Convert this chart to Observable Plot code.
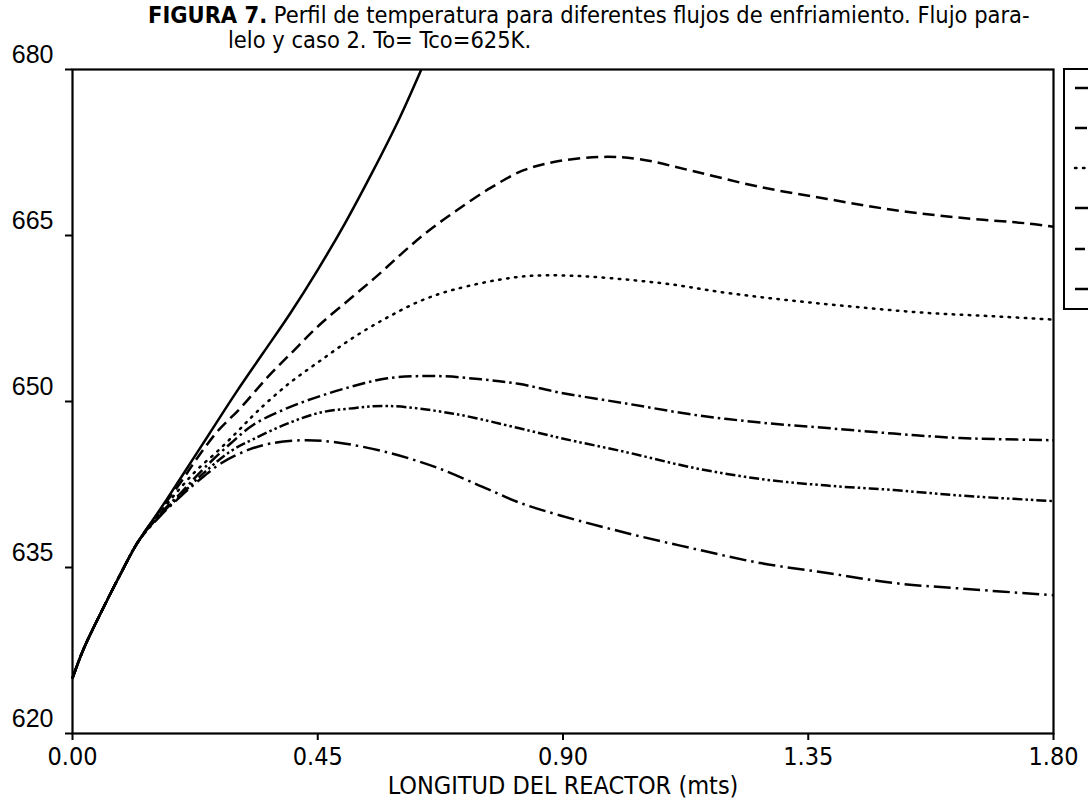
<!DOCTYPE html>
<html>
<head>
<meta charset="utf-8">
<script src="https://cdn.jsdelivr.net/npm/d3@7"></script>
<script src="https://cdn.jsdelivr.net/npm/@observablehq/plot@0.6"></script>
<style>
  html, body { margin: 0; padding: 0; background: #fff; overflow: hidden; }
  #wrap { position: relative; width: 1088px; height: 801px; }
  #title { position: absolute; left: 148px; top: 3px; white-space: nowrap;
           font-family: "DejaVu Sans", sans-serif; font-stretch: condensed;
           font-size: 22px; line-height: 25px; color: #000; }
  #title b { font-weight: bold; }
  #legend { position: absolute; left: 1063px; top: 68px; width: 60px; height: 238px;
            border: 2px solid #000; background: #fff; }
  #plot { position: absolute; left: 0; top: 0; }
</style>
</head>
<body>
<div id="wrap">
  <div id="plot"></div>
  <div id="title"><span id="l1"><b>FIGURA 7.</b> Perfil de temperatura para diferentes flujos de enfriamiento. Flujo para-</span><br><span id="l2" style="padding-left:80px">lelo y caso 2. To= Tco=625K.</span></div>
  <div id="legend"></div>
</div>
<script>
// ---- data ----
const xTicks = [0, 0.45, 0.90, 1.35, 1.80];
const yTicks = [620, 635, 650, 665, 680];
const xLabel = "LONGITUD DEL REACTOR (mts)";

// shared initial segment
const x0 = [0, 0.02, 0.057, 0.088, 0.12];
const t0 = [625, 627.6, 631.4, 634.4, 637.3];

const x1 = [0.16, 0.2, 0.25, 0.3, 0.35, 0.4, 0.45, 0.5, 0.55, 0.6, 0.64];
const t1 = [640.2, 643.2, 647.0, 650.8, 654.4, 658.0, 661.9, 666.1, 670.7, 675.6, 680];

const x2 = [0.16, 0.2, 0.229, 0.266, 0.308, 0.358, 0.406, 0.455, 0.51, 0.56, 0.607, 0.65, 0.70, 0.767, 0.828, 0.89, 0.97, 1.04, 1.14, 1.26, 1.385, 1.507, 1.63, 1.75, 1.80];
const t2 = [640.1, 642.8, 644.9, 647.3, 649.4, 652.2, 654.6, 657.0, 659.3, 661.4, 663.5, 665.3, 667.1, 669.3, 670.9, 671.7, 672.1, 671.9, 670.8, 669.4, 668.3, 667.3, 666.6, 666.1, 665.8];

const x3 = [0.16, 0.2, 0.23, 0.266, 0.303, 0.339, 0.394, 0.455, 0.516, 0.578, 0.639, 0.699, 0.809, 0.895, 1.079, 1.202, 1.323, 1.446, 1.569, 1.69, 1.80];
const t3 = [639.9, 642.3, 643.9, 645.5, 647.3, 649.1, 651.5, 653.7, 655.8, 657.6, 659.1, 660.1, 661.2, 661.4, 660.7, 659.8, 659.1, 658.5, 658.0, 657.7, 657.4];

const x4 = [0.16, 0.2, 0.24, 0.29, 0.332, 0.394, 0.455, 0.516, 0.578, 0.67, 0.75, 0.818, 0.895, 1.018, 1.14, 1.262, 1.385, 1.507, 1.629, 1.80];
const t4 = [639.8, 641.8, 643.9, 646.2, 647.9, 649.4, 650.5, 651.4, 652.1, 652.3, 652.0, 651.6, 650.8, 649.8, 648.8, 648.1, 647.6, 647.1, 646.7, 646.5];

const x5 = [0.16, 0.2, 0.24, 0.29, 0.332, 0.394, 0.455, 0.516, 0.578, 0.699, 0.818, 0.895, 1.018, 1.14, 1.262, 1.385, 1.507, 1.629, 1.80];
const t5 = [639.7, 641.6, 643.5, 645.5, 646.6, 648.0, 649.0, 649.4, 649.6, 648.9, 647.6, 646.7, 645.4, 644.0, 643.0, 642.4, 642.0, 641.5, 641.0];

const x6 = [0.16, 0.2, 0.24, 0.272, 0.321, 0.363, 0.424, 0.486, 0.578, 0.67, 0.761, 0.818, 0.895, 1.018, 1.14, 1.262, 1.385, 1.507, 1.629, 1.80];
const t6 = [639.6, 641.5, 643.2, 644.4, 645.6, 646.2, 646.5, 646.3, 645.4, 644.0, 642.1, 640.9, 639.7, 638.1, 636.7, 635.4, 634.5, 633.6, 633.1, 632.5];

// ---- build table ----
const seriesDefs = [
  {id: "s1", xs: x1, ts: t1, dash: null, cap: "butt"},
  {id: "s2", xs: x2, ts: t2, dash: "12,6", cap: "butt"},
  {id: "s3", xs: x3, ts: t3, dash: "1.5,6.5", cap: "round"},
  {id: "s4", xs: x4, ts: t4, dash: "13,4,2.5,4", cap: "butt"},
  {id: "s5", xs: x5, ts: t5, dash: "10,3,2.5,3,2.5,3", cap: "butt"},
  {id: "s6", xs: x6, ts: t6, dash: "17,5,2.5,5", cap: "butt"}
];
function rows(def) {
  const xs = x0.concat(def.xs), ts = t0.concat(def.ts);
  return xs.map((x, i) => ({x, T: ts[i]}));
}

const narrow = "'DejaVu Sans', sans-serif";
const marks = seriesDefs.map(def => Plot.line(rows(def), {
  x: "x", y: "T", curve: "catmull-rom", stroke: "#000", strokeWidth: 2.5,
  strokeDasharray: def.dash || undefined, strokeLinecap: def.cap
}));

const chart = Plot.plot({
  width: 1088, height: 801,
  marginTop: 69, marginBottom: 68, marginLeft: 72, marginRight: 35,
  style: {background: "#fff", color: "#000"},
  x: {domain: [0, 1.8]},
  y: {domain: [620, 680]},
  marks: [
    ...marks,
    Plot.frame({stroke: "#000", strokeWidth: 2.2}),
    // tick marks only
    Plot.axisY({ticks: yTicks, tickSize: 7, tickFormat: () => "", label: null, strokeWidth: 2}),
    // tick labels, lifted above their ticks
    Plot.axisY({ticks: yTicks, tickSize: 0, tickPadding: 19, fontSize: 25, dy: -15,
                fontFamily: "'Liberation Sans', Arial, sans-serif", label: null}),
    Plot.axisX({ticks: xTicks, tickFormat: d3.format(".2f"), tickSize: 7, tickPadding: 7,
                fontSize: 25, fontFamily: narrow, label: xLabel, labelAnchor: "center",
                labelArrow: "none", labelOffset: 60, strokeWidth: 2})
  ]
});
d3.select(chart).selectAll('[aria-label="x-axis tick label"], [aria-label="x-axis label"]')
  .style("font-stretch", "condensed");
document.getElementById("plot").appendChild(chart);

// fit title line 1 width
const l1 = document.getElementById("l1");
const target = 882;
const w = l1.getBoundingClientRect().width;
const fs = 22 * target / w;
document.getElementById("title").style.fontSize = fs.toFixed(2) + "px";

// legend samples (cut off at right like the reference)
const legY = [18, 58, 98, 138, 179, 219];
const ns = "http://www.w3.org/2000/svg";
const lsvg = document.createElementNS(ns, "svg");
lsvg.setAttribute("width", "60"); lsvg.setAttribute("height", "238");
seriesDefs.forEach((def, i) => {
  const ln = document.createElementNS(ns, "line");
  ln.setAttribute("x1", 10); ln.setAttribute("x2", 60);
  ln.setAttribute("y1", legY[i]); ln.setAttribute("y2", legY[i]);
  ln.setAttribute("stroke", "#000"); ln.setAttribute("stroke-width", 2.5);
  if (def.dash) ln.setAttribute("stroke-dasharray", def.dash);
  ln.setAttribute("stroke-linecap", def.cap);
  lsvg.appendChild(ln);
});
document.getElementById("legend").appendChild(lsvg);
</script>
</body>
</html>
